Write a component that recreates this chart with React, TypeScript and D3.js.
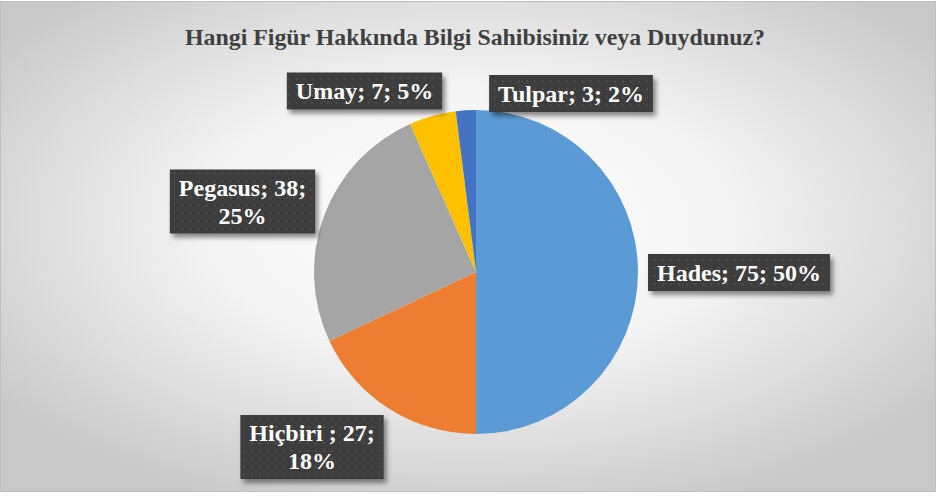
import { useEffect, useRef } from "react";
import * as d3 from "d3";

// chart data
const categories = ["Hades", "Hiçbiri ", "Pegasus", "Umay", "Tulpar"];
const counts = [75, 27, 38, 7, 3];
const colors = ["#5B9BD5", "#ED7D31", "#A5A5A5", "#FFC000", "#4472C4"];
const title = "Hangi Figür Hakkında Bilgi Sahibisiniz veya Duydunuz?";
// how Excel wrapped each label
const wrapAfter = [3, 2, 2, 3, 3];
// box centres (Excel best-fit placement), relative to pie centre
const labelLayout = [
  [263, 0.5],
  [-164, 175],
  [-233.5, -70.5],
  [-111.5, -181],
  [95, -178.5],
];

const W = 936;
const H = 496;
const FONT = "Liberation Serif";

export default function App() {
  const svgRef = useRef<SVGSVGElement>(null);

  useEffect(() => {
    const svg = d3.select(svgRef.current);
    svg.selectAll("*").remove();

    const defs = svg.append("defs");
    const bg = defs.append("radialGradient").attr("id", "bg")
      .attr("cx", "50%").attr("cy", "45%").attr("r", "62%");
    bg.append("stop").attr("offset", "0%").attr("stop-color", "#ffffff");
    bg.append("stop").attr("offset", "45%").attr("stop-color", "#f4f4f4");
    bg.append("stop").attr("offset", "100%").attr("stop-color", "#c9c9c9");

    const pat = defs.append("pattern").attr("id", "dots")
      .attr("width", 8).attr("height", 8).attr("patternUnits", "userSpaceOnUse");
    pat.append("rect").attr("width", 8).attr("height", 8).attr("fill", "#3d3d3d");
    pat.append("circle").attr("cx", 4).attr("cy", 4).attr("r", 1.3).attr("fill", "#4b4b4b");

    const sh = defs.append("filter").attr("id", "shadow")
      .attr("x", "-20%").attr("y", "-30%").attr("width", "150%").attr("height", "180%");
    sh.append("feDropShadow").attr("dx", 3).attr("dy", 4).attr("stdDeviation", 2.5)
      .attr("flood-color", "#000").attr("flood-opacity", 0.45);

    svg.append("rect").attr("x", 0.5).attr("y", 1.5).attr("width", W - 1).attr("height", 490)
      .attr("fill", "url(#bg)").attr("stroke", "#c0c0c0");

    svg.append("text")
      .attr("x", 475).attr("y", 45)
      .attr("text-anchor", "middle")
      .attr("font-family", FONT)
      .attr("font-weight", "bold").attr("font-size", 24)
      .attr("fill", "#404040")
      .attr("textLength", 580).attr("lengthAdjust", "spacingAndGlyphs")
      .text(title);

    const cx = 476, cy = 272, r = 162;
    const total = d3.sum(counts);
    const pie = d3.pie<number>().sort(null).value(d => d);
    const arc = d3.arc<d3.PieArcDatum<number>>().innerRadius(0).outerRadius(r);
    const g = svg.append("g").attr("transform", `translate(${cx},${cy})`);
    g.selectAll("path")
      .data(pie(counts))
      .join("path")
      .attr("d", arc)
      .attr("fill", (d, i) => colors[i])
      .attr("stroke", "none");

    categories.forEach((c, i) => {
      const parts = [c, `${counts[i]}`, `${Math.round((counts[i] / total) * 100)}%`];
      const n = wrapAfter[i];
      const lines = [parts.slice(0, n).join("; ") + (n < 3 ? ";" : "")];
      if (n < 3) lines.push(parts.slice(n).join("; "));

      const [dx, dy] = labelLayout[i];
      const lg = g.append("g").attr("transform", `translate(${dx},${dy})`);
      const rect = lg.append("rect").attr("fill", "url(#dots)").attr("filter", "url(#shadow)");
      const lh = 28;
      const txt = lg.append("text")
        .attr("text-anchor", "middle")
        .attr("font-family", FONT).attr("font-weight", "bold").attr("font-size", 24)
        .attr("fill", "#ffffff");
      const y0 = -((lines.length - 1) * lh) / 2 + 8;
      lines.forEach((l, j) => {
        txt.append("tspan").attr("x", 0).attr("y", y0 + j * lh).text(l);
      });
      let tw = 0;
      txt.selectAll<SVGTSpanElement, unknown>("tspan").each(function () {
        tw = Math.max(tw, this.getComputedTextLength());
      });
      const bw = tw + 18;
      const bh = lines.length === 1 ? 37 : 64;
      rect.attr("x", -bw / 2).attr("y", -bh / 2).attr("width", bw).attr("height", bh);
    });
  }, []);

  return (
    <svg ref={svgRef} width={W} height={H}
      style={{ position: "absolute", left: 0, top: 0, display: "block" }} />
  );
}
